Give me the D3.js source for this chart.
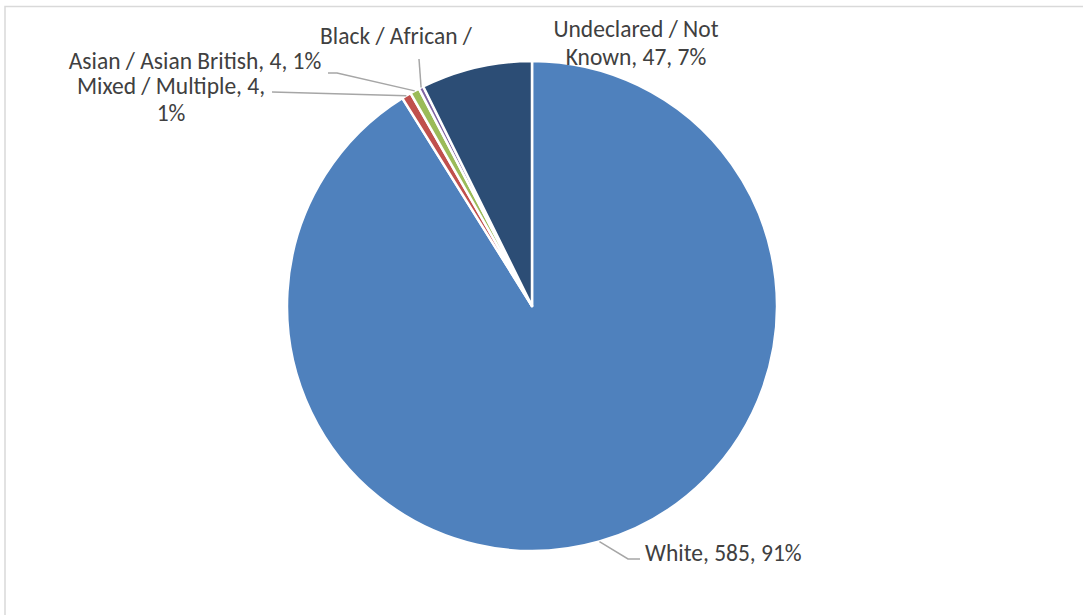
<!DOCTYPE html>
<html>
<head>
<meta charset="utf-8">
<script src="https://cdn.jsdelivr.net/npm/d3@7"></script>
<style>
  html, body { margin: 0; padding: 0; background: #fff; }
  svg { display: block; }
</style>
</head>
<body>
<svg id="chart" width="1083" height="615"></svg>
<script>
// ---- data ----
const categories = ["White", "Mixed / Multiple", "Asian / Asian British", "Black / African / Caribbean / Black British", "Undeclared / Not Known"];
const values = [585, 4, 4, 2, 47];
const percents = ["91%", "1%", "1%", "0%", "7%"];
const colors = ["#4F81BD", "#C0504D", "#9BBB59", "#8064A2", "#2C4D75"];
// label text lines as displayed
const labelLines = [
  ["White, 585, 91%"],
  ["Mixed / Multiple, 4,", "1%"],
  ["Asian / Asian British, 4, 1%"],
  ["Black / African /"],
  ["Undeclared / Not", "Known, 47, 7%"]
];

// ---- layout ----
const W = 1083, H = 615;
const cx = 532, cy = 306, R = 245;
const labelLayout = [
  {x: 645, y: 561, anchor: "start", lh: 28, leader: [[628, 559], [640, 559]]},
  {x: 171, y: 94, anchor: "middle", lh: 27, leader: [[272, 92]]},
  {x: 195, y: 69, anchor: "middle", lh: 27, leader: [[337, 73], [328, 73]]},
  {x: 396, y: 44, anchor: "middle", lh: 27, leader: [[419, 59]]},
  {x: 636, y: 37, anchor: "middle", lh: 28, leader: null}
];

const svg = d3.select("#chart");

// chart frame
svg.append("rect")
  .attr("x", 5).attr("y", 6.5)
  .attr("width", W + 10).attr("height", H + 10)
  .attr("fill", "none").attr("stroke", "#D9D9D9").attr("stroke-width", 1.5);

const data = categories.map((c, i) => ({cat: c, value: values[i], color: colors[i], i}));

const pie = d3.pie().value(d => d.value).sort(null);
const arcs = pie(data);
const arc = d3.arc().innerRadius(0).outerRadius(R);

const g = svg.append("g").attr("transform", `translate(${cx},${cy})`);
g.selectAll("path.slice")
  .data(arcs)
  .join("path")
  .attr("class", "slice")
  .attr("d", arc)
  .attr("fill", d => d.data.color)
  .attr("stroke", "#fff")
  .attr("stroke-width", 2.5)
  .attr("stroke-linejoin", "round");

// leader lines
arcs.forEach((a, i) => {
  const L = labelLayout[i];
  if (!L.leader) return;
  const mid = (a.startAngle + a.endAngle) / 2;
  const p0 = [cx + R * Math.sin(mid), cy - R * Math.cos(mid)];
  const pts = [p0].concat(L.leader);
  svg.append("path")
    .attr("d", d3.line()(pts))
    .attr("fill", "none")
    .attr("stroke", "#A6A6A6")
    .attr("stroke-width", 1.5);
});

// labels
labelLines.forEach((lines, i) => {
  const L = labelLayout[i];
  const t = svg.append("text")
    .attr("x", L.x).attr("y", L.y)
    .attr("text-anchor", L.anchor)
    .attr("font-family", "Carlito, Calibri, Lato, sans-serif")
    .attr("font-size", 23.5)
    .attr("fill", "#404040");
  lines.forEach((ln, j) => {
    t.append("tspan").attr("x", L.x).attr("dy", j === 0 ? 0 : L.lh).text(ln);
  });
});
</script>
</body>
</html>
